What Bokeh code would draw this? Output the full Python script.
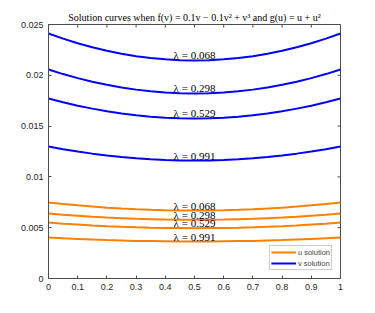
import math
from bokeh.plotting import figure
from bokeh.models import FixedTicker, Range1d, ColumnDataSource, Legend, LegendItem
from bokeh.core.properties import value
from bokeh.embed import file_html
from bokeh.resources import INLINE

x = [0.0, 0.05, 0.1, 0.15, 0.2, 0.25, 0.3, 0.35, 0.4, 0.45, 0.5,
     0.55, 0.6, 0.65, 0.7, 0.75, 0.8, 0.85, 0.9, 0.95, 1.0]
lambdas = ["0.068", "0.298", "0.529", "0.991"]

v_068 = [0.02411, 0.02361, 0.02316, 0.02276, 0.02241, 0.02212, 0.02188, 0.02170, 0.02157, 0.02149, 0.02146,
         0.02149, 0.02157, 0.02170, 0.02188, 0.02212, 0.02241, 0.02276, 0.02316, 0.02361, 0.02411]
v_298 = [0.02057, 0.02012, 0.01972, 0.01937, 0.01906, 0.01880, 0.01859, 0.01842, 0.01830, 0.01823, 0.01821,
         0.01823, 0.01830, 0.01842, 0.01859, 0.01880, 0.01906, 0.01937, 0.01972, 0.02012, 0.02057]
v_529 = [0.01772, 0.01735, 0.01701, 0.01672, 0.01646, 0.01624, 0.01607, 0.01593, 0.01583, 0.01577, 0.01575,
         0.01577, 0.01583, 0.01593, 0.01607, 0.01624, 0.01646, 0.01672, 0.01701, 0.01735, 0.01772]
v_991 = [0.01299, 0.01273, 0.01249, 0.01229, 0.01211, 0.01196, 0.01183, 0.01173, 0.01167, 0.01162, 0.01161,
         0.01162, 0.01167, 0.01173, 0.01183, 0.01196, 0.01211, 0.01229, 0.01249, 0.01273, 0.01299]

u_068 = [0.00748, 0.00733, 0.00720, 0.00708, 0.00697, 0.00689, 0.00682, 0.00676, 0.00672, 0.00670, 0.00669,
         0.00670, 0.00672, 0.00676, 0.00682, 0.00689, 0.00697, 0.00708, 0.00720, 0.00733, 0.00748]
u_298 = [0.00640, 0.00628, 0.00618, 0.00608, 0.00600, 0.00594, 0.00588, 0.00584, 0.00580, 0.00579, 0.00578,
         0.00579, 0.00580, 0.00584, 0.00588, 0.00594, 0.00600, 0.00608, 0.00618, 0.00628, 0.00640]
u_529 = [0.00551, 0.00540, 0.00531, 0.00522, 0.00515, 0.00509, 0.00504, 0.00500, 0.00497, 0.00496, 0.00495,
         0.00496, 0.00497, 0.00500, 0.00504, 0.00509, 0.00515, 0.00522, 0.00531, 0.00540, 0.00551]
u_991 = [0.00404, 0.00396, 0.00390, 0.00384, 0.00378, 0.00374, 0.00370, 0.00368, 0.00366, 0.00364, 0.00364,
         0.00364, 0.00366, 0.00368, 0.00370, 0.00374, 0.00378, 0.00384, 0.00390, 0.00396, 0.00404]

x_ticks = [0, 0.1, 0.2, 0.3, 0.4, 0.5, 0.6, 0.7, 0.8, 0.9, 1]
x_tick_labels = ["0", "0.1", "0.2", "0.3", "0.4", "0.5", "0.6", "0.7", "0.8", "0.9", "1"]
y_ticks = [0, 0.005, 0.01, 0.015, 0.02, 0.025]
y_tick_labels = ["0", "0.005", "0.01", "0.015", "0.02", "0.025"]

title = "Solution curves when f(v) = 0.1v \u2212 0.1v\u00b2 + v\u00b3 and g(u) = u + u\u00b2"

BLUE = "#0000ff"
ORANGE = "#ff8000"
AX = "#4d4d4d"

p = figure(frame_width=292, frame_height=254, output_backend="svg", toolbar_location=None,
           x_range=Range1d(x_ticks[0], x_ticks[-1]), y_range=Range1d(y_ticks[0], y_ticks[-1]),
           min_border_left=48, min_border_right=20, min_border_top=24, min_border_bottom=20)
p.title.text = title
p.title.align = "center"
p.title.text_font = "Liberation Serif"
p.title.text_font_size = "10px"
p.title.text_font_style = "normal"
p.title.text_color = "#000000"
p.title.offset = 0
p.title.standoff = 3

p.grid.visible = False
p.outline_line_color = AX
p.outline_line_width = 1
p.background_fill_color = "white"
p.border_fill_color = "white"

for ax in [p.xaxis[0], p.yaxis[0]]:
    ax.axis_line_color = AX
    ax.major_tick_line_color = AX
    ax.minor_tick_line_color = None
    ax.major_tick_in = 3
    ax.major_tick_out = 0
    ax.major_label_text_color = "#262626"
    ax.major_label_text_font = "Liberation Sans"
    ax.major_label_text_font_size = "9px"
    ax.major_label_standoff = 5

p.xaxis.ticker = FixedTicker(ticks=x_ticks)
p.xaxis.major_label_overrides = {t: l for t, l in zip(x_ticks, x_tick_labels)}
p.yaxis.ticker = FixedTicker(ticks=y_ticks)
p.yaxis.major_label_overrides = {t: l for t, l in zip(y_ticks, y_tick_labels)}

# inward ticks on the top and right edges of the box
p.scatter(x=x_ticks, y=[y_ticks[-1]] * len(x_ticks), marker="dash", size=6, angle=math.pi / 2,
          line_color=AX, line_width=1)
p.scatter(x=[x_ticks[-1]] * len(y_ticks), y=y_ticks, marker="dash", size=6, angle=0,
          line_color=AX, line_width=1)

u_series = [u_068, u_298, u_529, u_991]
v_series = [v_068, v_298, v_529, v_991]

u_renderers = [p.line(x, ys, line_color=ORANGE, line_width=2) for ys in u_series]
v_renderers = [p.line(x, ys, line_color=BLUE, line_width=2) for ys in v_series]

mid = len(x) // 2
lab_x, lab_y, lab_t = [], [], []
for lam, ys in list(zip(lambdas, v_series)) + list(zip(lambdas, u_series)):
    lab_x.append(x[mid]); lab_y.append(ys[mid]); lab_t.append("\u03bb = " + lam)
src = ColumnDataSource(dict(x=lab_x, y=lab_y, t=lab_t))
p.text(x="x", y="y", text="t", source=src, text_align="center", text_baseline="bottom",
       text_font=value("Liberation Serif"), text_font_size="11px", text_color="#000000", y_offset=1)

legend = Legend(items=[LegendItem(label="u solution", renderers=[u_renderers[0]]),
                       LegendItem(label="v solution", renderers=[v_renderers[0]])],
                location="bottom_right")
legend.label_text_font = "Liberation Sans"
legend.label_text_font_size = "7.5px"
legend.label_standoff = 2
legend.glyph_width = 25
legend.glyph_height = 10
legend.label_height = 10
legend.spacing = 1
legend.padding = 1
legend.margin = 8
legend.border_line_color = "#999999"
legend.background_fill_alpha = 1
p.add_layout(legend)

open("out.html", "w").write(file_html(p, INLINE))
